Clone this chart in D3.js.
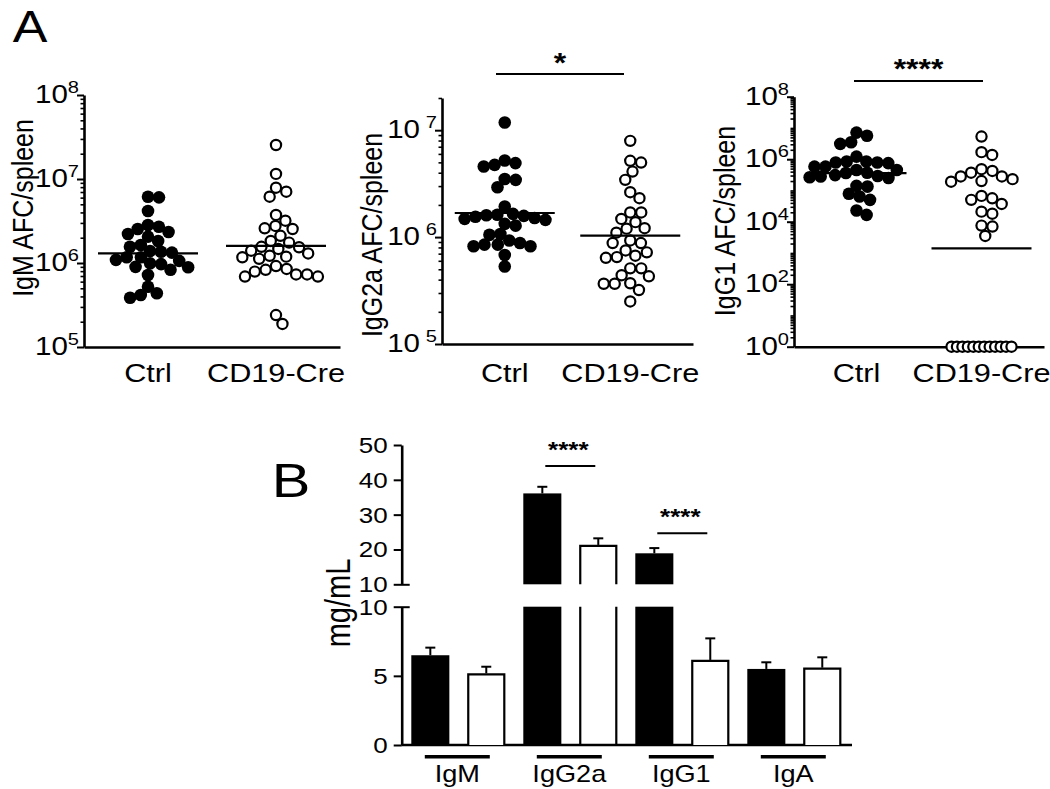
<!DOCTYPE html>
<html><head><meta charset="utf-8">
<script src="https://cdn.jsdelivr.net/npm/d3@7"></script>
<style>
body{margin:0;background:#fff}
svg{display:block}
text{font-family:"Liberation Sans", Arial, sans-serif; fill:#000}
</style>
</head><body>
<svg id="c" width="1050" height="789"></svg>
<script>
// ---------------- DATA ----------------
const categories = ["Ctrl", "CD19-Cre"];

const igmCtrl = [6.05e6, 6.15e6, 4.16e6, 2.70e6, 2.83e6, 2.54e6, 2.34e6, 2.06e6, 2.21e6, 1.83e6,
  1.64e6, 1.56e6, 1.39e6, 1.33e6, 1.17e6, 1.17e6, 1.36e6, 1.09e6, 0.99e6, 0.90e6, 0.83e6, 0.72e6,
  0.89e6, 0.97e6, 1.06e6, 4.36e5, 3.86e5, 4.16e5, 5.22e5];
const igmCre = [2.54e7, 1.15e7, 7.06e6, 6.15e6, 7.87e6, 3.73e6, 2.54e6, 2.76e6, 3.19e6, 2.59e6,
  2.11e6, 1.83e6, 1.75e6, 1.56e6, 1.47e6, 1.30e6, 1.19e6, 1.12e6, 1.17e6, 1.22e6, 1.40e6, 1.54e6,
  0.92e6, 0.83e6, 0.73e6, 0.69e6, 0.69e6, 0.73e6, 0.79e6, 0.85e6, 1.88e5, 2.40e5];
const igmLines = [1.3e6, 1.6e6];

const igg2aCtrl = [1.18e7, 5.2e6, 4.74e6, 4.57e6, 4.92e6, 3.5e6, 3.43e6, 2.93e6, 1.93e6, 1.65e6,
  1.62e6, 1.58e6, 1.55e6, 1.51e6, 1.48e6, 1.45e6, 1.33e6, 1.28e6, 1.6e6, 1.05e6, 1.07e6, 0.93e6,
  0.85e6, 0.82e6, 0.82e6, 0.85e6, 0.88e6, 6.8e5, 5.3e5];
const igg2aCre = [7.95e6, 4.98e6, 5.17e6, 4.1e6, 3.43e6, 2.63e6, 2.31e6, 1.48e6, 1.7e6, 1.7e6,
  1.38e6, 1.21e6, 1.1e6, 1.2e6, 0.88e6, 0.88e6, 0.93e6, 0.67e6, 0.75e6, 0.64e6, 0.72e6, 0.65e6,
  0.51e6, 0.51e6, 0.43e6, 0.44e6, 0.366e6, 0.366e6, 0.37e6, 0.32e6, 2.5e5];
const igg2aLines = [1.68e6, 1.03e6];

const igg1Ctrl = [5.6e6, 3.1e6, 3.5e6, 7.1e6, 7.5e5, 8.4e5, 7.8e5, 7.8e5, 8.4e5, 1.21e6, 5.8e5,
  5.8e5, 4.5e5, 3.6e5, 2.9e5, 2.65e5, 2.5e5, 2.8e5, 3.1e5, 3.7e5, 4.5e5, 1.33e5, 1.4e5, 6.4e4,
  5e4, 7.8e4, 1.65e4, 2.27e4];
const igg1Cre = [5.3e6, 1.68e6, 1.37e6, 4.8e5, 3.7e5, 2.8e5, 1.9e5, 2.0e5, 2.3e5, 2.8e5, 4.2e5,
  5.6e4, 3.7e4, 5e4, 6.7e4, 1.8e4, 2.1e4, 7e3, 7.5e3, 3.5e3,
  1, 1, 1, 1, 1, 1, 1, 1, 1, 1, 1, 1];
const igg1Lines = [3.6e5, 1.4e3];

const isotypes = ["IgM", "IgG2a", "IgG1", "IgA"];
const ctrlMean = [6.49, 36.1, 18.9, 5.5];
const ctrlSem  = [0.55, 1.9, 1.5, 0.48];
const creMean  = [5.18, 21.3, 6.15, 5.59];
const creSem   = [0.48, 1.9, 1.56, 0.75];
const barTicksLow = [0, 5, 10];
const barTicksHigh = [10, 20, 30, 40, 50];

// ---------------- DRAW ----------------
const svg = d3.select("#c");
svg.append("rect").attr("width", 1050).attr("height", 789).attr("fill", "#fff");
const SX = 1.18;

function stext(g, x, y, str, size, anchor, rot) {
  return g.append("text")
    .attr("transform", `translate(${x},${y}) scale(${SX},1)` + (rot ? ` rotate(${rot})` : ""))
    .attr("font-size", size)
    .attr("text-anchor", anchor || "middle")
    .text(str);
}

function swarm(values, yScale, cx, d, floorVal) {
  const pts = values.map(v => ({ v, y: yScale(v), x: 0 }));
  const floorPts = pts.filter(p => p.v <= floorVal);
  const rest = pts.filter(p => p.v > floorVal).sort((a, b) => a.y - b.y);
  const placed = [];
  rest.forEach(p => {
    const cands = [0];
    placed.forEach(q => {
      const dy = Math.abs(q.y - p.y);
      if (dy < d) {
        const dx = Math.sqrt(d * d - dy * dy);
        cands.push(q.x + dx, q.x - dx);
      }
    });
    cands.sort((a, b) => Math.abs(a) - Math.abs(b) || b - a);
    let chosen = null;
    for (const c of cands) {
      if (placed.every(q => (q.x - c) ** 2 + (q.y - p.y) ** 2 >= d * d - 0.01)) { chosen = c; break; }
    }
    p.x = chosen === null ? cands[cands.length - 1] : chosen;
    placed.push(p);
  });
  const n = floorPts.length;
  const sp = n > 1 ? Math.min(d, 60 / (n - 1)) : 0;
  floorPts.forEach((p, i) => p.x = (i - (n - 1) / 2) * sp);
  return pts.map(p => ({ v: p.v, y: p.y, x: cx + p.x }));
}

const panels = [
  { ctrl: igmCtrl, cre: igmCre, lines: igmLines, title: "IgM AFC/spleen",
    ax: 84, x1: 340, yB: 347, yT: 95, dom: [1e5, 1e8], majors: [1e5, 1e6, 1e7, 1e8],
    supGap: 0, titleX: 23, titleY: 208, floorVal: 0, sig: null },
  { ctrl: igg2aCtrl, cre: igg2aCre, lines: igg2aLines, title: "IgG2a AFC/spleen",
    ax: 442, x1: 693, yB: 344, yT: 98, dom: [1e5, 2e7], majors: [1e5, 1e6, 1e7],
    supGap: 5, titleX: 372, titleY: 235, floorVal: 0,
    sig: { text: "*", y: 74, x0: 496, x1: 624, ty: 72 } },
  { ctrl: igg1Ctrl, cre: igg1Cre, lines: igg1Lines, title: "IgG1 AFC/spleen",
    ax: 794, x1: 1044, yB: 346.7, yT: 96.7, dom: [1, 1e8], majors: [1, 1e2, 1e4, 1e6, 1e8],
    supGap: 0, titleX: 725, titleY: 221, floorVal: 1,
    sig: { text: "****", y: 81, x0: 854, x1: 983, ty: 78 } }
];

panels.forEach(P => {
  const g = svg.append("g");
  const y = d3.scaleLog().domain(P.dom).range([P.yB, P.yT]);
  const x = d3.scalePoint().domain(categories).range([P.ax, P.x1]).padding(0.5);

  const minors = [];
  const e0 = Math.floor(Math.log10(P.dom[0])), e1 = Math.ceil(Math.log10(P.dom[1]));
  for (let e = e0; e <= e1; e++) for (let k = 1; k <= 9; k++) {
    const v = k * Math.pow(10, e);
    if (v >= P.dom[0] * 0.999 && v <= P.dom[1] * 1.001 && !P.majors.some(m => Math.abs(m - v) / v < 1e-6)) minors.push(v);
  }
  g.append("g").attr("transform", `translate(${P.ax},0)`)
    .call(d3.axisLeft(y).tickValues(minors).tickSize(3.5).tickSizeOuter(0).tickFormat(""))
    .call(s => s.selectAll("line").attr("stroke", "#000").attr("stroke-width", 1.6))
    .call(s => s.select(".domain").attr("stroke", "#000").attr("stroke-width", 2.6));
  const maj = g.append("g").attr("transform", `translate(${P.ax},0)`)
    .call(d3.axisLeft(y).tickValues(P.majors).tickSize(7).tickSizeOuter(0).tickFormat(""));
  maj.selectAll("line").attr("stroke", "#000").attr("stroke-width", 2);
  maj.select(".domain").remove();

  P.majors.forEach(m => {
    const ex = Math.round(Math.log10(m));
    const t = g.append("text")
      .attr("transform", `translate(${P.ax - 5},${y(m) + 8}) scale(${SX},1)`)
      .attr("font-size", 25).attr("text-anchor", "end");
    t.append("tspan").text("10");
    t.append("tspan").attr("font-size", 17).attr("dy", -10).attr("dx", P.supGap).text(ex);
  });

  g.append("g").attr("transform", `translate(0,${P.yB})`)
    .call(d3.axisBottom(x).tickSize(0).tickSizeOuter(0).tickFormat(""))
    .call(s => s.select(".domain").attr("stroke", "#000").attr("stroke-width", 2.6));

  categories.forEach(c => stext(g, x(c), 382, c, 26));

  stext(g, P.titleX, P.titleY, P.title, 25, "middle", -90).attr("dominant-baseline", "central");

  const cp = swarm(P.ctrl, y, x("Ctrl"), 11, P.floorVal);
  const rp = swarm(P.cre, y, x("CD19-Cre"), 11, P.floorVal);
  g.selectAll(".fc").data(cp).join("circle").attr("cx", d => d.x).attr("cy", d => d.y)
    .attr("r", 6.3).attr("fill", "#000");
  g.selectAll(".oc").data(rp).join("circle").attr("cx", d => d.x).attr("cy", d => d.y)
    .attr("r", 5.1).attr("fill", "#fff").attr("stroke", "#000").attr("stroke-width", 2.2);

  categories.forEach((c, i) => {
    g.append("line").attr("x1", x(c) - 50).attr("x2", x(c) + 50)
      .attr("y1", y(P.lines[i])).attr("y2", y(P.lines[i]))
      .attr("stroke", "#000").attr("stroke-width", 2.2);
  });

  if (P.sig) {
    g.append("line").attr("x1", P.sig.x0).attr("x2", P.sig.x1).attr("y1", P.sig.y).attr("y2", P.sig.y)
      .attr("stroke", "#000").attr("stroke-width", 2);
    stext(g, (P.sig.x0 + P.sig.x1) / 2, P.sig.ty, P.sig.text, 27).attr("font-weight", "bold");
  }
});

stext(svg, 30, 42, "A", 44);
stext(svg, 291, 497, "B", 49);

// ---------------- PANEL B ----------------
const gb = svg.append("g");
const axB = 401.7;
const yLow = d3.scaleLinear().domain([0, 10]).range([745, 606.7]);
const yHigh = d3.scaleLinear().domain([10, 50]).range([584.3, 445]);
const xG = d3.scaleBand().domain(isotypes).range([402.3, 850.3]).padding(0);
const xS = d3.scaleBand().domain(categories).range([9, 103]).paddingInner(0.32).paddingOuter(0);

function axisSeg(scale, ticks) {
  const a = gb.append("g").attr("transform", `translate(${axB},0)`)
    .call(d3.axisLeft(scale).tickValues(ticks).tickSize(8).tickSizeOuter(0).tickFormat(""));
  a.selectAll("line").attr("stroke", "#000").attr("stroke-width", 2);
  a.select(".domain").attr("stroke", "#000").attr("stroke-width", 2.6);
  a.selectAll(".tick").filter(d => d === 10).select("line").attr("x2", -8).attr("x1", 8);
  ticks.forEach(t => {
    stext(gb, axB - 14, scale(t) + 8, String(t), 22, "end");
  });
}
axisSeg(yLow, barTicksLow);
axisSeg(yHigh, barTicksHigh);

gb.append("line").attr("x1", axB).attr("x2", 852).attr("y1", 745).attr("y2", 745)
  .attr("stroke", "#000").attr("stroke-width", 2.6);

const barRows = [];
isotypes.forEach((iso, i) => {
  barRows.push({ iso, grp: "Ctrl", v: ctrlMean[i], sem: ctrlSem[i] });
  barRows.push({ iso, grp: "CD19-Cre", v: creMean[i], sem: creSem[i] });
});

function yv(v) { return v <= 10 ? yLow(v) : yHigh(v); }

barRows.forEach(b => {
  const x0 = xG(b.iso) + xS(b.grp), x1 = x0 + xS.bandwidth();
  const filled = b.grp === "Ctrl";
  const segs = b.v > 10 ? [[yLow(0), yLow(10), "low"], [yHigh(10), yHigh(b.v), "high"]] : [[yLow(0), yLow(b.v), "all"]];
  segs.forEach(([yb, yt, kind]) => {
    if (filled) {
      gb.append("rect").attr("x", x0).attr("y", yt).attr("width", x1 - x0).attr("height", yb - yt).attr("fill", "#000");
    } else {
      const xa = x0 + 1, xb = x1 - 1;
      let p;
      if (kind === "low") p = `M${xa},${yt}V${yb}M${xb},${yb}V${yt}`;
      else p = `M${xa},${yb}V${yt + 1}H${xb}V${yb}`;
      gb.append("path").attr("d", p).attr("fill", kind === "low" ? "none" : "#fff")
        .attr("stroke", "#000").attr("stroke-width", 2.2);
    }
  });
  const xc = (x0 + x1) / 2, yt = yv(b.v), ye = yv(b.v + b.sem);
  gb.append("line").attr("x1", xc).attr("x2", xc).attr("y1", yt).attr("y2", ye).attr("stroke", "#000").attr("stroke-width", 2);
  gb.append("line").attr("x1", xc - 5).attr("x2", xc + 5).attr("y1", ye).attr("y2", ye).attr("stroke", "#000").attr("stroke-width", 2);
});

isotypes.forEach(iso => {
  const c = xG(iso) + xG.bandwidth() / 2 - 1;
  gb.append("line").attr("x1", c - 32.5).attr("x2", c + 32.5).attr("y1", 756.7).attr("y2", 756.7)
    .attr("stroke", "#000").attr("stroke-width", 3.6);
  stext(gb, c, 782, iso, 23);
});

const bSig = [{ iso: "IgG2a", y: 466, ty: 457 }, { iso: "IgG1", y: 533.3, ty: 524 }];
bSig.forEach(s => {
  const c = xG(s.iso) + xG.bandwidth() / 2;
  gb.append("line").attr("x1", c - 25).attr("x2", c + 25).attr("y1", s.y).attr("y2", s.y)
    .attr("stroke", "#000").attr("stroke-width", 2);
  stext(gb, c - 2, s.ty, "****", 22).attr("font-weight", "bold");
});

stext(gb, 338, 603, "mg/mL", 29, "middle", -90).attr("dominant-baseline", "central");
</script>
</body></html>
